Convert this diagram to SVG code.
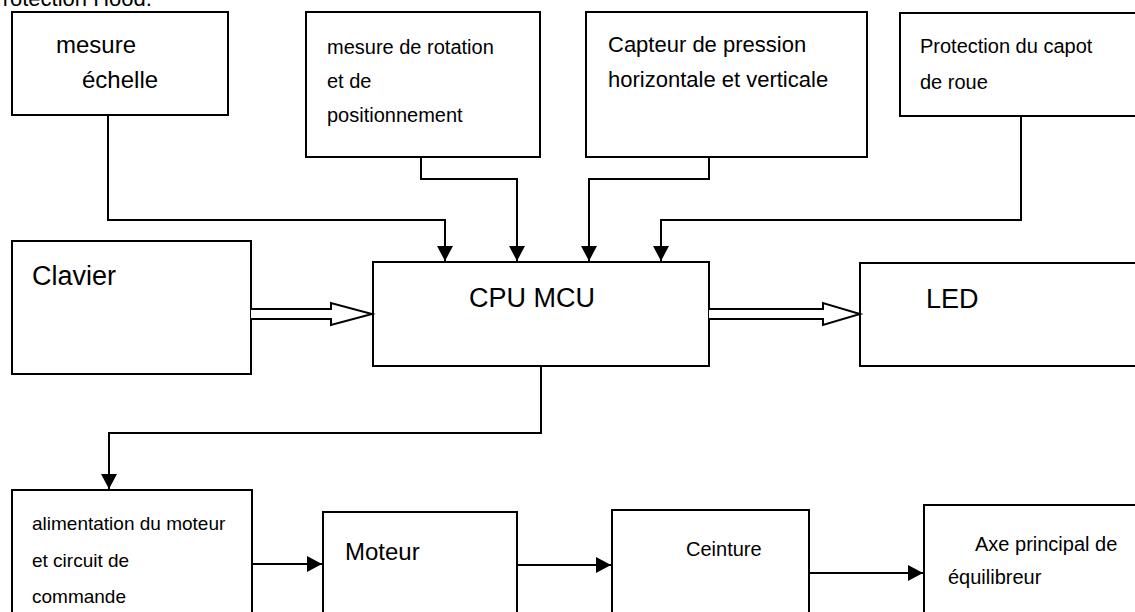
<svg xmlns="http://www.w3.org/2000/svg" width="1135" height="612" viewBox="0 0 1135 612">
<defs>
<style>
.box{fill:#fff;stroke:#000;stroke-width:2}
.ln{fill:none;stroke:#000;stroke-width:2}
.hol{fill:#fff;stroke:#000;stroke-width:2;stroke-linejoin:miter}
text{font-family:"Liberation Sans",Arial,sans-serif;fill:#000}
</style>
<marker id="ah" markerWidth="16" markerHeight="16" viewBox="0 0 16 16" refX="15" refY="8" orient="auto" markerUnits="userSpaceOnUse">
<path d="M0,0 L15,8 L0,16 Z" fill="#000"/>
</marker>
</defs>
<rect width="1135" height="612" fill="#fff"/>
<text x="-12" y="6" font-size="22">Protection Hood.</text>

<g id="n-echelle"><rect class="box" x="12" y="12" width="216" height="103"/>
<text x="56" y="53" font-size="24">mesure</text><text x="82" y="88" font-size="24">échelle</text></g>

<g id="n-rotation"><rect class="box" x="306" y="12" width="234" height="145"/>
<text x="327" y="54" font-size="20">mesure de rotation</text><text x="327" y="88" font-size="20">et de</text><text x="327" y="122" font-size="20">positionnement</text></g>

<g id="n-pression"><rect class="box" x="586" y="12" width="281" height="145"/>
<text x="608" y="52" font-size="22">Capteur de pression</text><text x="608" y="87" font-size="22">horizontale et verticale</text></g>

<g id="n-capot"><rect class="box" x="900" y="13" width="240" height="103"/>
<text x="920" y="53" font-size="20">Protection du capot</text><text x="920" y="89" font-size="20">de roue</text></g>

<g id="n-clavier"><rect class="box" x="12" y="241" width="239" height="133"/>
<text x="32" y="285" font-size="27">Clavier</text></g>

<g id="n-cpu"><rect class="box" x="373" y="262" width="336" height="104"/>
<text x="469" y="307" font-size="27">CPU MCU</text></g>

<g id="n-led"><rect class="box" x="860" y="263" width="280" height="103"/>
<text x="926" y="308" font-size="27">LED</text></g>

<g id="n-alim"><rect class="box" x="12" y="490" width="240" height="130"/>
<text x="32" y="530" font-size="19">alimentation du moteur</text><text x="32" y="567" font-size="19">et circuit de</text><text x="32" y="603" font-size="19">commande</text></g>

<g id="n-moteur"><rect class="box" x="323" y="512" width="194" height="110"/>
<text x="345" y="560" font-size="24">Moteur</text></g>

<g id="n-ceinture"><rect class="box" x="612" y="510" width="197" height="112"/>
<text x="686" y="556" font-size="20">Ceinture</text></g>

<g id="n-axe"><rect class="box" x="924" y="505" width="216" height="117"/>
<text x="975" y="551" font-size="20">Axe principal de</text><text x="948" y="584" font-size="20">équilibreur</text></g>

<g id="connectors">
<path class="ln" d="M108,115 V220 H445 V261" marker-end="url(#ah)"/>
<path class="ln" d="M421,157 V179 H517 V261" marker-end="url(#ah)"/>
<path class="ln" d="M709,157 V179 H589 V261" marker-end="url(#ah)"/>
<path class="ln" d="M1021,116 V220 H661 V261" marker-end="url(#ah)"/>
<path class="hol" d="M251,309 H331 V303 L372,314 L331,325 V319 H251"/>
<path class="hol" d="M709,309 H823 V303 L860,314 L823,325 V319 H709"/>
<path class="ln" d="M541,366 V433 H109 V489" marker-end="url(#ah)"/>
<path class="ln" d="M252,564 H322" marker-end="url(#ah)"/>
<path class="ln" d="M517,565 H611" marker-end="url(#ah)"/>
<path class="ln" d="M809,573 H923" marker-end="url(#ah)"/>
</g>
</svg>
